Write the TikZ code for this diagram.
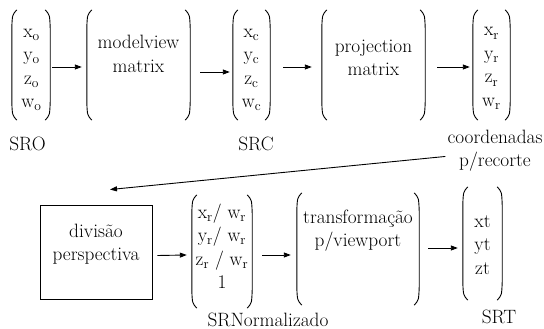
\documentclass[tikz,border=0pt]{standalone}
\usepackage{fontspec}
\usetikzlibrary{arrows.meta,calc}
\tikzset{
  txt/.style={font=\rmfamily\fontsize{19.3}{23.5}\selectfont, inner sep=0pt, align=center, anchor=base},
  frame/.style={draw=none, inner sep=0pt, minimum width=#1},
  paren/.style={line width=0.9pt},
  arr/.style={line width=0.9pt, -{Triangle[length=7pt,width=5pt]}},
  boxst/.style={draw, line width=0.9pt, inner sep=0pt}
}
\newcommand{\drawparens}[1]{%
  \draw[paren] ($(#1.north west)+(5,0)$) .. controls ($(#1.north west)+(0.5,5)$) .. ($(#1.north west)+(0,18)$)
     -- ($(#1.south west)+(0,-18)$) .. controls ($(#1.south west)+(0.5,-5)$) .. ($(#1.south west)+(5,0)$);
  \draw[paren] ($(#1.north east)+(-5,0)$) .. controls ($(#1.north east)+(-0.5,5)$) .. ($(#1.north east)+(0,18)$)
     -- ($(#1.south east)+(0,-18)$) .. controls ($(#1.south east)+(-0.5,-5)$) .. ($(#1.south east)+(-5,0)$);
}
\begin{document}
\begin{tikzpicture}[x=1pt,y=-1pt]
\useasboundingbox (0,0) rectangle (544,329);
% frames
\node[frame=38pt, minimum height=110pt] (v1) at (31,65) {};
\node[frame=103pt, minimum height=110pt] (m1) at (138.5,65) {};
\node[frame=37pt, minimum height=110pt] (v2) at (251.5,65) {};
\node[frame=103pt, minimum height=110pt] (m2) at (373.5,65) {};
\node[frame=37pt, minimum height=110pt] (v3) at (491.5,65) {};
\node[boxst, minimum width=112pt, minimum height=94pt] (d) at (96,252) {};
\node[frame=60pt, minimum height=113pt] (v4) at (222,251.5) {};
\node[frame=122pt, minimum height=112pt] (m3) at (358,249) {};
\node[frame=39pt, minimum height=113pt] (v5) at (482.5,243.5) {};
\drawparens{v1}\drawparens{m1}\drawparens{v2}\drawparens{m2}\drawparens{v3}
\drawparens{v4}\drawparens{m3}\drawparens{v5}
% contents (anchor = baseline of last line)
\node[txt] (v1t) at (31.5,107.5) {x\textsubscript{o}\\y\textsubscript{o}\\z\textsubscript{o}\\w\textsubscript{o}};
\node[txt] (m1t) at (138.5,72.5) {modelview\\matrix};
\node[txt] (v2t) at (251.5,107.5) {x\textsubscript{c}\\y\textsubscript{c}\\z\textsubscript{c}\\w\textsubscript{c}};
\node[txt] (m2t) at (373.5,75.5) {projection\\matrix};
\node[txt] (v3t) at (491.5,106.5) {x\textsubscript{r}\\y\textsubscript{r}\\z\textsubscript{r}\\w\textsubscript{r}};
\node[txt] (dt) at (96,260.5) {divisão\\perspectiva};
\node[txt] (v4t) at (222,288.5) {x\textsubscript{r}/ w\textsubscript{r}\\y\textsubscript{r}/ w\textsubscript{r}\\z\textsubscript{r} / w\textsubscript{r}\\1};
\node[txt] (m3t) at (358,246.5) {transformação\\p/viewport};
\node[txt] (v5t) at (482.5,274) {xt\\yt\\zt};
% labels
\node[txt] (sro) at (27.5,150) {SRO};
\node[txt] (src) at (256,150) {SRC};
\node[txt] (rec) at (495,166.5) {coordenadas\\p/recorte};
\node[txt] (srn) at (268,326) {SRNormalizado};
\node[txt] (srt) at (499,323) {SRT};
% arrows
\draw[arr] ([shift={(2,2)}]v1.east) -- ([shift={(-5,2)}]m1.west);
\draw[arr] ([shift={(10,7)}]m1.east) -- ([shift={(-3,7)}]v2.west);
\draw[arr] ([shift={(13,2)}]v2.east) -- ([shift={(-10,2)}]m2.west);
\draw[arr] ([shift={(12,2)}]m2.east) -- ([shift={(-3,2)}]v3.west);
\draw[arr] ([shift={(-2,6)}]rec.west) -- ([shift={(14,-15)}]d.north);
\draw[arr] ([shift={(5,3.5)}]d.east) -- ([shift={(-5,3.5)}]v4.west);
\draw[arr] ([shift={(10,3.5)}]v4.east) -- ([shift={(-6,6)}]m3.west);
\draw[arr] ([shift={(9,-1)}]m3.east) -- ([shift={(-5,4.5)}]v5.west);
\end{tikzpicture}
\end{document}
